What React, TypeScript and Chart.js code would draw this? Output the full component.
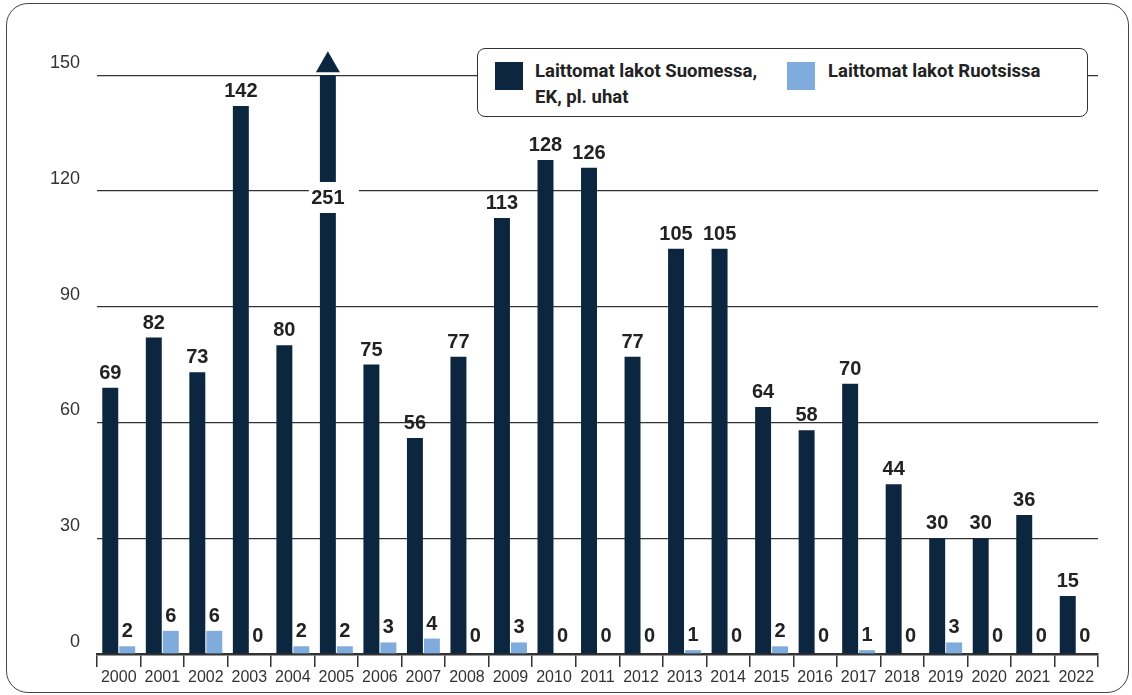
import React, { useEffect, useRef } from "react";
import { Chart, registerables } from "chart.js";

Chart.register(...registerables);

const years = ["2000","2001","2002","2003","2004","2005","2006","2007","2008","2009","2010","2011","2012","2013","2014","2015","2016","2017","2018","2019","2020","2021","2022"];
const finland = [69, 82, 73, 142, 80, 251, 75, 56, 77, 113, 128, 126, 77, 105, 105, 64, 58, 70, 44, 30, 30, 36, 15];
const sweden = [2, 6, 6, 0, 2, 2, 3, 4, 0, 3, 0, 0, 0, 1, 0, 2, 0, 1, 0, 3, 0, 0, 0];
const yTickValues = [0, 30, 60, 90, 120, 150];
const axisCap = 150;
const yMax = 156;
const seriesNames = ["Laittomat lakot Suomessa, EK, pl. uhat", "Laittomat lakot Ruotsissa"];

const DARK = "#0b263e";
const LIGHT = "#80acdd";
const TEXT = "#222222";

const labelPlugin = {
  id: "valueLabels",
  afterDatasetsDraw(chart: any) {
    const ctx = chart.ctx;
    const yScale = chart.scales.y;
    const raws = [finland, sweden];
    ctx.save();
    ctx.font = "bold 20px 'Liberation Sans', Arial, sans-serif";
    ctx.textAlign = "center";
    ctx.textBaseline = "alphabetic";
    chart.data.datasets.forEach((_ds: any, di: number) => {
      const meta = chart.getDatasetMeta(di);
      meta.data.forEach((bar: any, i: number) => {
        const v = raws[di][i];
        if (v > axisCap) {
          const cy = yScale.getPixelForValue(118.3);
          ctx.fillStyle = "#ffffff";
          ctx.fillRect(bar.x - 19, cy - 15.5, 50, 31);
          ctx.fillStyle = TEXT;
          ctx.fillText(String(v), bar.x, cy + 7);
          const base = yScale.getPixelForValue(axisCap) - 3;
          ctx.fillStyle = DARK;
          ctx.beginPath();
          ctx.moveTo(bar.x - 12, base);
          ctx.lineTo(bar.x + 12, base);
          ctx.lineTo(bar.x, base - 21);
          ctx.closePath();
          ctx.fill();
        } else {
          const top = Math.min(bar.y, yScale.getPixelForValue(0) - 3);
          ctx.fillStyle = TEXT;
          ctx.fillText(String(v), bar.x, top - 9);
        }
      });
    });
    ctx.restore();
  },
};

export default function App() {
  const canvasRef = useRef<HTMLCanvasElement | null>(null);

  useEffect(() => {
    if (!canvasRef.current) return;
    const chart = new Chart(canvasRef.current, {
      type: "bar",
      data: {
        labels: years,
        datasets: [
          {
            label: seriesNames[0],
            data: finland.map((v) => Math.min(v, axisCap)),
            backgroundColor: DARK,
            categoryPercentage: 0.78,
            barPercentage: 0.94,
          },
          {
            label: seriesNames[1],
            data: sweden,
            backgroundColor: LIGHT,
            categoryPercentage: 0.78,
            barPercentage: 0.94,
          },
        ],
      },
      options: {
        responsive: false,
        animation: false,
        devicePixelRatio: 1,
        layout: { padding: { left: 0, top: 52, right: 34, bottom: 0 } },
        plugins: {
          legend: { display: false },
          tooltip: { enabled: false },
          title: { display: false },
        },
        scales: {
          x: {
            grid: {
              offset: true,
              drawOnChartArea: false,
              drawTicks: true,
              tickLength: 13,
              color: "#333333",
              lineWidth: 1.5,
            },
            border: { display: true, color: "#333333", width: 2.5 },
            ticks: {
              color: "#333333",
              font: { family: "'Liberation Sans', Arial, sans-serif", size: 16 },
              padding: 1,
              autoSkip: false,
              maxRotation: 0,
              minRotation: 0,
            },
            afterFit(scale: any) {
              scale.height = 41;
            },
          },
          y: {
            min: 0,
            max: yMax,
            grid: {
              drawTicks: false,
              color: (c: any) => (c.tick && c.tick.value === 0 ? "rgba(0,0,0,0)" : "#333333"),
              lineWidth: 1.2,
            },
            border: { display: false },
            ticks: {
              stepSize: 30,
              color: "#333333",
              font: { family: "'Liberation Sans', Arial, sans-serif", size: 18 },
              padding: 17,
              labelOffset: -12,
            },
            afterBuildTicks(scale: any) {
              scale.ticks = yTickValues.map((v) => ({ value: v }));
            },
            afterFit(scale: any) {
              scale.width = 97;
            },
          },
        },
      },
      plugins: [labelPlugin],
    });
    return () => chart.destroy();
  }, []);

  const legendText: React.CSSProperties = {
    position: "absolute",
    fontFamily: "Roboto, 'Noto Sans', sans-serif",
    fontWeight: 700,
    fontSize: 18.5,
    lineHeight: "26px",
    color: TEXT,
    whiteSpace: "nowrap",
  };

  return (
    <div style={{ position: "fixed", left: 0, top: 0, width: 1132, height: 695, background: "#fff", overflow: "hidden" }}>
      <div
        style={{
          position: "absolute",
          left: 6,
          top: 3,
          width: 1123,
          height: 690,
          border: "1.5px solid #444",
          borderRadius: 22,
          boxSizing: "border-box",
        }}
      />
      <canvas ref={canvasRef} width={1132} height={695} style={{ position: "absolute", left: 0, top: 0, width: 1132, height: 695 }} />
      <div
        style={{
          position: "absolute",
          left: 477,
          top: 48,
          width: 611,
          height: 69,
          border: "1.5px solid #333",
          borderRadius: 8,
          background: "#fff",
          boxSizing: "border-box",
        }}
      >
        <div style={{ position: "absolute", left: 17, top: 13, width: 28, height: 28, background: DARK }} />
        <div style={{ ...legendText, left: 57, top: 9 }}>
          Laittomat lakot Suomessa,
          <br />
          EK, pl. uhat
        </div>
        <div style={{ position: "absolute", left: 309, top: 13, width: 28, height: 28, background: LIGHT }} />
        <div style={{ ...legendText, left: 350, top: 9 }}>{seriesNames[1]}</div>
      </div>
    </div>
  );
}
